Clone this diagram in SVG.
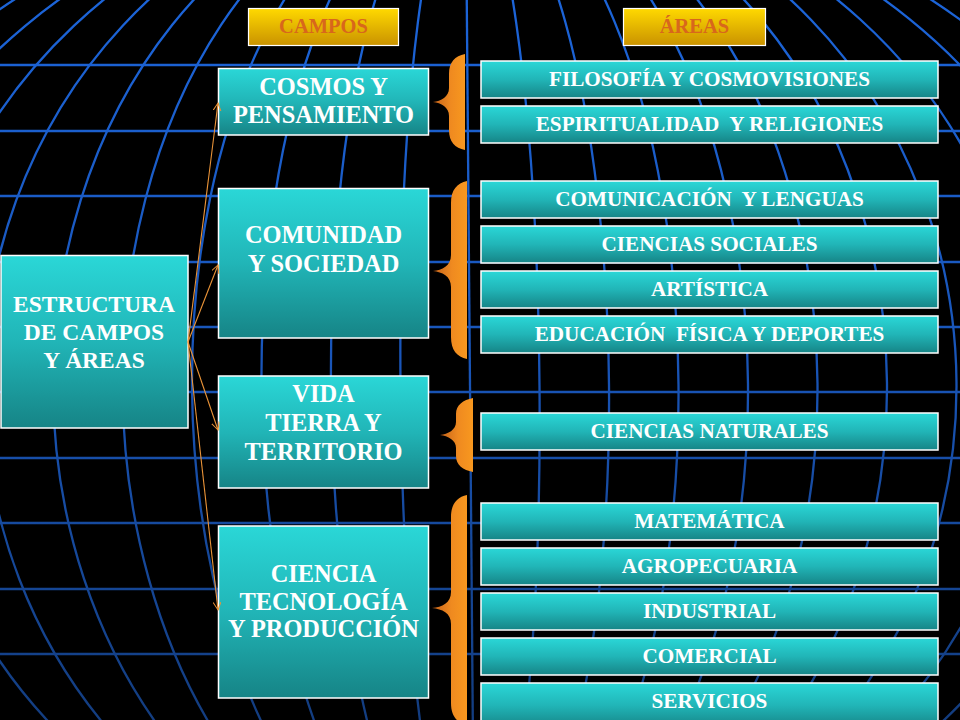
<svg xmlns="http://www.w3.org/2000/svg" width="960" height="720" viewBox="0 0 960 720">
  <defs>
    <linearGradient id="gridStroke" gradientUnits="userSpaceOnUse" x1="0" y1="0" x2="0" y2="720">
      <stop offset="0" stop-color="#1c64d8"/>
      <stop offset="0.5" stop-color="#1955b8"/>
      <stop offset="1" stop-color="#133d80"/>
    </linearGradient>
    <linearGradient id="teal" x1="0" y1="0" x2="0" y2="1">
      <stop offset="0" stop-color="#2ad7d7"/>
      <stop offset="0.5" stop-color="#21b5b7"/>
      <stop offset="1" stop-color="#168486"/>
    </linearGradient>
    <linearGradient id="gold" x1="0" y1="0" x2="0" y2="1">
      <stop offset="0" stop-color="#ffd900"/>
      <stop offset="1" stop-color="#c99200"/>
    </linearGradient>
    <linearGradient id="brace" x1="0" y1="0" x2="1" y2="0">
      <stop offset="0" stop-color="#c4621a"/>
      <stop offset="0.55" stop-color="#ef8a20"/>
      <stop offset="1" stop-color="#f8981f"/>
    </linearGradient>
    <marker id="arrow" markerUnits="userSpaceOnUse" markerWidth="10" markerHeight="10" refX="8" refY="4" orient="auto">
      <path d="M0,0 L8,4 L0,8" fill="none" stroke="#eb9438" stroke-width="1"/>
    </marker>
  </defs>
  <style>
    .grid { fill: none; stroke: url(#gridStroke); stroke-width: 2.3; }
    .box { fill: url(#teal); stroke: #ffffff; stroke-width: 1.5; }
    .hdr { fill: url(#gold); stroke: #ffffff; stroke-width: 1.2; }
    .brace { fill: url(#brace); }
    .t { font-family: "Liberation Serif", "Times New Roman", serif; font-weight: bold; fill: #ffffff; text-anchor: middle; }
    .root { font-size: 23.5px; }
    .big { font-size: 24.4px; }
    .area { font-size: 21.2px; }
    .hdrt { font-family: "Liberation Serif", "Times New Roman", serif; font-weight: bold; font-size: 20.5px; fill: #d8671c; text-anchor: middle; }
    .conn { fill: none; stroke: #eb9438; stroke-width: 1.1; marker-end: url(#arrow); }
  </style>

  <rect x="0" y="0" width="960" height="720" fill="#000000"/>

  <g id="globe-grid">
    <g transform="rotate(-0.48 470 386)">
      <line class="grid" x1="470" y1="-20" x2="470" y2="740"/>
      <ellipse class="grid" cx="470" cy="386" rx="69.5" ry="514"/>
      <ellipse class="grid" cx="470" cy="386" rx="139" ry="514"/>
      <ellipse class="grid" cx="470" cy="386" rx="208.5" ry="514"/>
      <ellipse class="grid" cx="470" cy="386" rx="278" ry="514"/>
      <ellipse class="grid" cx="470" cy="386" rx="347.5" ry="514"/>
      <ellipse class="grid" cx="470" cy="386" rx="417" ry="514"/>
      <ellipse class="grid" cx="470" cy="386" rx="486.5" ry="514"/>
      <ellipse class="grid" cx="470" cy="386" rx="556" ry="514"/>
      <ellipse class="grid" cx="470" cy="386" rx="625.5" ry="514"/>
      <ellipse class="grid" cx="470" cy="386" rx="695" ry="514"/>
      <ellipse class="grid" cx="470" cy="386" rx="764.5" ry="514"/>
    </g>
    <line class="grid" x1="0" y1="65" x2="960" y2="65"/>
    <line class="grid" x1="0" y1="131" x2="960" y2="131"/>
    <line class="grid" x1="0" y1="196" x2="960" y2="196"/>
    <line class="grid" x1="0" y1="262" x2="960" y2="262"/>
    <line class="grid" x1="0" y1="327" x2="960" y2="327"/>
    <line class="grid" x1="0" y1="392" x2="960" y2="392"/>
    <line class="grid" x1="0" y1="458" x2="960" y2="458"/>
    <line class="grid" x1="0" y1="523" x2="960" y2="523"/>
    <line class="grid" x1="0" y1="589" x2="960" y2="589"/>
    <line class="grid" x1="0" y1="654" x2="960" y2="654"/>
  </g>

  <g id="braces">
    <path class="brace" d="M465,54 C455,56 449,62 449,74 L449,88 C449,97 441,101 433,102 C441,103 449,107 449,116 L449,130 C449,142 455,148 465,150 Z"/>
    <path class="brace" d="M467,181 C457,183 451,190 451,203 L451,255 C451,266 442,270 433,271 C442,272 451,276 451,287 L451,337 C451,350 457,357 467,359 Z"/>
    <path class="brace" d="M473,398 C463,400 456,405 456,414 L456,422 C456,430 448,434 440,435 C448,436 456,440 456,448 L456,456 C456,465 463,470 473,472 Z"/>
    <path class="brace" d="M467,495 C457,497 451,504 451,517 L451,592 C451,603 442,607 432,608 C442,609 451,613 451,624 L451,703 C451,716 457,723 467,725 Z"/>
  </g>

  <g id="hdr-campos">
    <rect class="hdr" x="248.5" y="8.5" width="150" height="37"/>
    <text class="hdrt" x="323.5" y="33">CAMPOS</text>
  </g>
  <g id="hdr-areas">
    <rect class="hdr" x="623.5" y="8.5" width="142" height="37"/>
    <text class="hdrt" x="694.5" y="33">ÁREAS</text>
  </g>

  <g id="estructura">
    <rect class="box" x="1" y="255.5" width="187" height="172.5"/>
    <text class="t root" x="94" y="312">ESTRUCTURA</text>
    <text class="t root" x="94" y="340">DE CAMPOS</text>
    <text class="t root" x="94" y="368">Y ÁREAS</text>
  </g>

  <g id="campo-cosmos">
    <rect class="box" x="218.5" y="68.5" width="210" height="66.5"/>
    <text class="t big" x="323.5" y="95">COSMOS Y</text>
    <text class="t big" x="323.5" y="123">PENSAMIENTO</text>
  </g>
  <g id="campo-comunidad">
    <rect class="box" x="218.5" y="188.5" width="210" height="149.5"/>
    <text class="t big" x="323.5" y="243">COMUNIDAD</text>
    <text class="t big" x="323.5" y="272">Y SOCIEDAD</text>
  </g>
  <g id="campo-vida">
    <rect class="box" x="218.5" y="376" width="210" height="112"/>
    <text class="t big" x="323.5" y="402">VIDA</text>
    <text class="t big" x="323.5" y="431">TIERRA Y</text>
    <text class="t big" x="323.5" y="460">TERRITORIO</text>
  </g>
  <g id="campo-ciencia">
    <rect class="box" x="218.5" y="526" width="210" height="172"/>
    <text class="t big" x="323.5" y="582">CIENCIA</text>
    <text class="t big" x="323.5" y="610">TECNOLOGÍA</text>
    <text class="t big" x="323.5" y="637">Y PRODUCCIÓN</text>
  </g>

  <g id="area-filosofia">
    <rect class="box" x="481" y="61" width="457" height="37"/>
    <text class="t area" x="709.5" y="85.5">FILOSOFÍA Y COSMOVISIONES</text>
  </g>
  <g id="area-espiritualidad">
    <rect class="box" x="481" y="106" width="457" height="37"/>
    <text class="t area" x="709.5" y="130.5" xml:space="preserve">ESPIRITUALIDAD  Y RELIGIONES</text>
  </g>
  <g id="area-comunicacion">
    <rect class="box" x="481" y="181" width="457" height="37"/>
    <text class="t area" x="709.5" y="205.5" xml:space="preserve">COMUNICACIÓN  Y LENGUAS</text>
  </g>
  <g id="area-sociales">
    <rect class="box" x="481" y="226" width="457" height="37"/>
    <text class="t area" x="709.5" y="250.5">CIENCIAS SOCIALES</text>
  </g>
  <g id="area-artistica">
    <rect class="box" x="481" y="271" width="457" height="37"/>
    <text class="t area" x="709.5" y="295.5">ARTÍSTICA</text>
  </g>
  <g id="area-educacion">
    <rect class="box" x="481" y="316" width="457" height="37"/>
    <text class="t area" x="709.5" y="340.5" xml:space="preserve">EDUCACIÓN  FÍSICA Y DEPORTES</text>
  </g>
  <g id="area-naturales">
    <rect class="box" x="481" y="413" width="457" height="37"/>
    <text class="t area" x="709.5" y="438">CIENCIAS NATURALES</text>
  </g>
  <g id="area-matematica">
    <rect class="box" x="481" y="503" width="457" height="37"/>
    <text class="t area" x="709.5" y="527.5">MATEMÁTICA</text>
  </g>
  <g id="area-agropecuaria">
    <rect class="box" x="481" y="548" width="457" height="37"/>
    <text class="t area" x="709.5" y="572.5">AGROPECUARIA</text>
  </g>
  <g id="area-industrial">
    <rect class="box" x="481" y="593" width="457" height="37"/>
    <text class="t area" x="709.5" y="617.5">INDUSTRIAL</text>
  </g>
  <g id="area-comercial">
    <rect class="box" x="481" y="638" width="457" height="37"/>
    <text class="t area" x="709.5" y="662.5">COMERCIAL</text>
  </g>
  <g id="area-servicios">
    <rect class="box" x="481" y="683" width="457" height="45"/>
    <text class="t area" x="709.5" y="707.5">SERVICIOS</text>
  </g>

  <g id="connectors">
    <path class="conn" d="M188,342 L218,103"/>
    <path class="conn" d="M188,342 L218,265"/>
    <path class="conn" d="M188,342 L218,430"/>
    <path class="conn" d="M188,342 L218,610"/>
  </g>
</svg>
